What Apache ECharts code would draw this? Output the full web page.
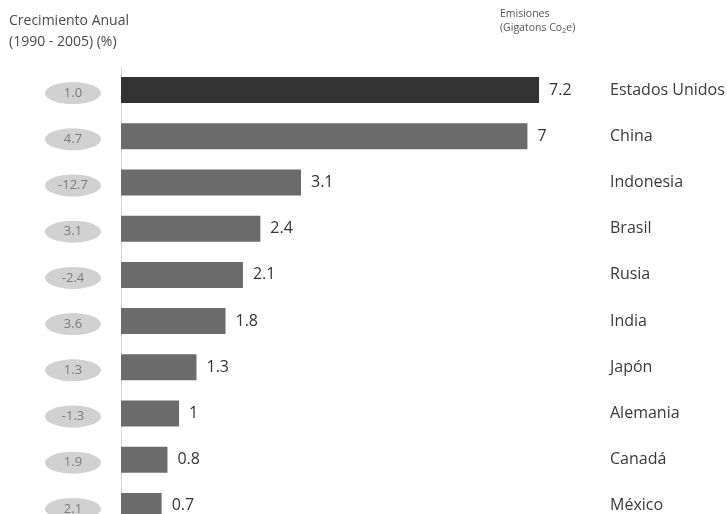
<!DOCTYPE html>
<html>
<head>
<meta charset="utf-8">
<script src="https://cdn.jsdelivr.net/npm/echarts@6/dist/echarts.min.js"></script>
<style>
  html, body { margin: 0; padding: 0; background: #fff; }
  #chart { width: 727px; height: 514px; }
</style>
</head>
<body>
<div id="chart"></div>
<script>
// Country names, top to bottom
const countries = ['Estados Unidos', 'China', 'Indonesia', 'Brasil', 'Rusia', 'India', 'Japón', 'Alemania', 'Canadá', 'México'];
// Emissions in gigatons CO2e
const emissions = [7.2, 7, 3.1, 2.4, 2.1, 1.8, 1.3, 1, 0.8, 0.7];
// Annual growth 1990-2005 (%)
const growth = [1.0, 4.7, -12.7, 3.1, -2.4, 3.6, 1.3, -1.3, 1.9, 2.1];

const FONT = '"Open Sans", "DejaVu Sans", sans-serif';

const chart = echarts.init(document.getElementById('chart'), null, { renderer: 'canvas' });

chart.setOption({
  animation: false,
  backgroundColor: '#ffffff',
  textStyle: { fontFamily: FONT },
  graphic: [
    { type: 'text', left: 9, top: 14, style: { text: 'Crecimiento Anual', fill: '#4a4a4a', font: '14px ' + FONT } },
    { type: 'text', left: 9, top: 35, style: { text: '(1990 - 2005) (%)', fill: '#4a4a4a', font: '14px ' + FONT } },
    { type: 'text', left: 500, top: 9, style: { text: 'Emisiones', fill: '#555', font: '10.5px ' + FONT } },
    {
      type: 'text', left: 500, top: 23,
      style: {
        text: '{a|(Gigatons Co}{s|2}{a|e)}',
        rich: {
          a: { fill: '#555', fontSize: 10.5, fontFamily: FONT },
          s: { fill: '#555', fontSize: 7.5, fontFamily: FONT, padding: [5, 0, 0, 0] }
        }
      }
    }
  ],
  // The last row runs past the bottom edge, so the grids are not fitted to the canvas
  grid: [
    { left: 121, right: 127, top: 67, height: 462, containLabel: false, outerBoundsMode: 'none' },
    { left: 45, width: 56, top: 70, height: 462, containLabel: false, outerBoundsMode: 'none' }
  ],
  xAxis: [
    { gridIndex: 0, type: 'value', min: 0, max: 8.25, show: false },
    { gridIndex: 1, type: 'category', data: ['g'], show: false }
  ],
  yAxis: [
    {
      gridIndex: 0, type: 'category', data: countries, inverse: true, position: 'left',
      offset: 2,
      axisLine: { show: true, lineStyle: { color: '#d6d6d6', width: 1 } },
      axisTick: { show: false },
      axisLabel: { show: false }
    },
    {
      gridIndex: 0, type: 'category', data: countries, inverse: true, position: 'right',
      axisLine: { show: false },
      axisTick: { show: false },
      axisLabel: { color: '#3a3a3a', fontSize: 16, margin: 10, fontFamily: FONT }
    },
    { gridIndex: 1, type: 'category', data: countries, inverse: true, show: false }
  ],
  series: [
    {
      type: 'bar',
      xAxisIndex: 0, yAxisIndex: 0,
      data: emissions,
      barWidth: 26,
      itemStyle: {
        color: (p) => (p.dataIndex === 0 ? '#333333' : '#6b6b6b')
      },
      label: {
        show: true, position: 'right', distance: 10,
        color: '#333', fontSize: 16, fontFamily: FONT,
        formatter: (p) => String(p.value)
      }
    },
    {
      type: 'scatter',
      xAxisIndex: 1, yAxisIndex: 2,
      data: growth.map((g, i) => ({ value: [0, countries[i]], growth: g })),
      symbol: 'circle',
      symbolSize: [56, 22],
      itemStyle: { color: '#c6c6c6' },
      label: {
        show: true, position: 'inside',
        color: '#666666', fontSize: 13, fontFamily: FONT,
        formatter: (p) => p.data.growth.toFixed(1)
      }
    }
  ]
});
</script>
</body>
</html>
